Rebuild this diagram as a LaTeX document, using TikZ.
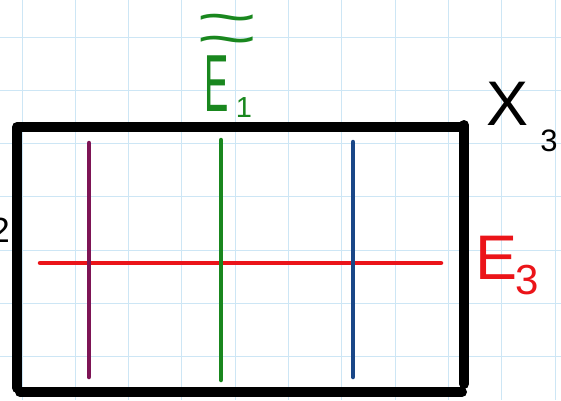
\documentclass[tikz,border=0pt]{standalone}
\usepackage{fontspec}
\setmainfont{Liberation Sans}
\usepackage{graphicx}
\definecolor{gridblue}{RGB}{205,230,245}
\definecolor{penpurple}{RGB}{125,20,85}
\definecolor{pengreen}{RGB}{25,135,30}
\definecolor{penblue}{RGB}{25,70,135}
\definecolor{penred}{RGB}{235,20,25}
\newcommand{\widetil}{\scalebox{1.75}[0.9]{\textasciitilde}}
\tikzset{
  gridline/.style={gridblue, line width=1pt},
  frameline/.style={black, line width=10pt, line cap=round, line join=round},
  penline/.style={line width=4.5pt, line cap=round},
  lbl/.style={inner sep=0pt, outer sep=0pt, anchor=center},
}
\begin{document}
\begin{tikzpicture}[x=1pt, y=-1pt]
\useasboundingbox (0,0) rectangle (561,400);
\clip (0,0) rectangle (561,400);
\fill[white] (0,0) rectangle (561,400);
% grid paper
\foreach \k in {0,...,10} { \draw[gridline] ({22+53.3*\k},0) -- ({22+53.3*\k},400); }
\foreach \k in {-1,...,6} { \draw[gridline] (0,{37+53.3*\k}) -- (561,{37+53.3*\k}); }
% frame
\coordinate (bl) at (17,388);
\coordinate (tl) at (17,127);
\coordinate (tr) at (462,127);
\coordinate (rt) at (464,125);
\coordinate (rb) at (464,384);
\coordinate (bbl) at (20,392);
\coordinate (bbr) at (462,392);
\draw[frameline] (bl) -- (tl) -- (tr);
\draw[frameline] (rt) -- (rb);
\draw[frameline] (bbl) -- (bbr);
% red horizontal
\coordinate (r1) at (40,263);
\coordinate (r2) at (441,263);
\draw[penline, penred] (r1) -- (r2);
% verticals
\coordinate (p1) at (89,143);
\coordinate (p2) at (89,377);
\coordinate (g1) at (221,140);
\coordinate (g2) at (221,380);
\coordinate (b1) at (353,142);
\coordinate (b2) at (353,377);
\draw[penline, penpurple] (p1) -- (p2);
\draw[penline, pengreen] (g1) -- (g2);
\draw[penline, penblue] (b1) -- (b2);
% labels
\node[lbl, pengreen, align=center, font=\fontsize{60}{18}\selectfont] (tilde) at (227,36) {\widetil\\\widetil};
\node[lbl, pengreen] (E1) at (217,84) {\scalebox{0.45}[1]{\fontsize{81}{81}\selectfont E}};
\node[lbl, pengreen] (E1sub) at (244,108) {\fontsize{29}{29}\selectfont 1};
\node[lbl, black] (X3) at (508,104) {\fontsize{63}{63}\selectfont X};
\node[lbl, black] (X3sub) at (549,141) {\fontsize{31}{31}\selectfont 3};
\node[lbl, penred] (E3) at (497,258) {\fontsize{63}{63}\selectfont E};
\node[lbl, penred] (E3sub) at (527,280) {\fontsize{42}{42}\selectfont 3};
\node[lbl, black] (two) at (0,230) {\fontsize{35}{35}\selectfont 2};
\end{tikzpicture}
\end{document}
